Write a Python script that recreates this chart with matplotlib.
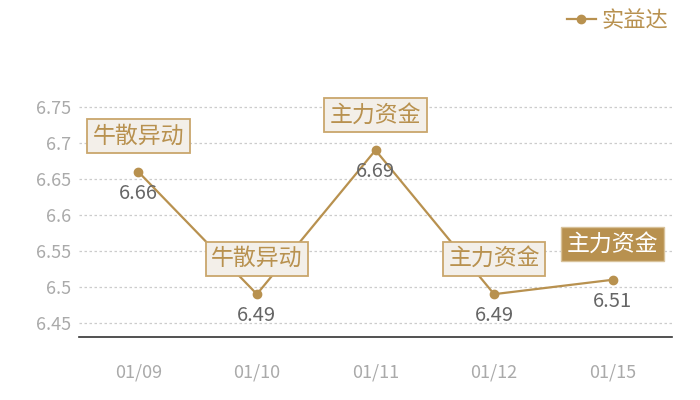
import matplotlib
matplotlib.use("Agg")
import matplotlib.pyplot as plt

plt.rcParams['font.family'] = ['Noto Sans CJK SC', 'DejaVu Sans']

dates = ["01/09", "01/10", "01/11", "01/12", "01/15"]
prices = [6.66, 6.49, 6.69, 6.49, 6.51]
tags = ["牛散异动", "牛散异动", "主力资金", "主力资金", "主力资金"]
highlight = [False, False, False, False, True]
series_name = "实益达"
yticks = [6.45, 6.5, 6.55, 6.6, 6.65, 6.7, 6.75]

gold = "#b8914f"
fig = plt.figure(figsize=(7, 4), dpi=100)
ax = fig.add_axes([79/700, 1 - 337/400, (672-79)/700, (337-71)/400])

x = list(range(len(dates)))
ax.plot(x, prices, color=gold, lw=1.6, marker="o", ms=6, zorder=3, label=series_name)

ax.set_xlim(-0.5, len(dates) - 0.5)
ax.set_ylim(6.4305, 6.8)
ax.set_yticks(yticks)
ax.set_yticklabels([f"{v:g}" for v in yticks])
ax.set_xticks(x)
ax.set_xticklabels(dates)
ax.tick_params(axis="both", length=0, colors="#aaaaaa", labelsize=13)
ax.tick_params(axis="x", pad=19)
ax.tick_params(axis="y", pad=6)
ax.grid(axis="y", color="#cccccc", ls=(0, (2, 2)), lw=0.9)
ax.set_axisbelow(True)
for s in ["top", "right", "left"]:
    ax.spines[s].set_visible(False)
ax.spines["bottom"].set_color("#333333")
ax.spines["bottom"].set_linewidth(1.2)

for xi, p, t, h in zip(x, prices, tags, highlight):
    ax.annotate(f"{p:g}", (xi, p), xytext=(0, -15.5), textcoords="offset points",
                ha="center", va="center", fontsize=14.5, color="#666666", zorder=4)
    if h:
        bbox = dict(boxstyle="square,pad=0.24", fc=gold, ec="#d8c29a", lw=1.0)
        tc = "white"
    else:
        bbox = dict(boxstyle="square,pad=0.24", fc="#f3efe9", ec="#c9a66c", lw=1.3)
        tc = gold
    ax.annotate(t, (xi, p), xytext=(0, 25.5), textcoords="offset points",
                ha="center", va="center", fontsize=16.5, color=tc, bbox=bbox, zorder=5)

leg = ax.legend(loc="upper right", bbox_to_anchor=(1.008, 1.267), frameon=False,
                fontsize=16, handlelength=1.3, handletextpad=0.25, borderaxespad=0)
for t in leg.get_texts():
    t.set_color(gold)

fig.savefig("out.png", dpi=100)
